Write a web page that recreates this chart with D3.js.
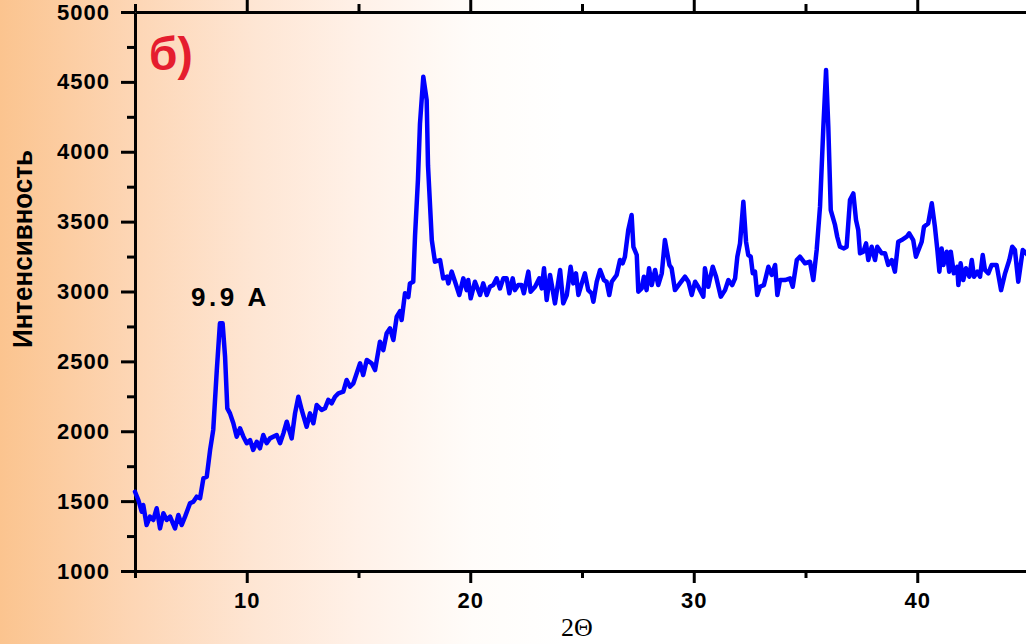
<!DOCTYPE html>
<html>
<head>
<meta charset="utf-8">
<script src="https://cdn.jsdelivr.net/npm/d3@7"></script>
<style>
  body { margin: 0; background: #fff; }
  svg { display: block; }
</style>
</head>
<body>
<svg></svg>
<script>
const width = 1026;
const height = 644;
const plotLeft = 135, plotRight = 1029, plotTop = 12, plotBottom = 571;

// 2Θ, degrees
const twoTheta = [
  5.00, 5.15, 5.30, 5.37, 5.52, 5.67, 5.82, 5.97, 6.12, 6.27, 6.42, 6.57, 6.79, 6.94, 7.09, 7.24,
  7.46, 7.61, 7.76, 7.91, 8.06, 8.21, 8.36, 8.50, 8.66, 8.80, 8.92, 9.03, 9.13, 9.25, 9.40, 9.55,
  9.70, 9.85, 10.00, 10.15, 10.29, 10.45, 10.59, 10.74, 10.89, 11.04, 11.34, 11.49, 11.64, 11.79,
  12.01, 12.16, 12.31, 12.46, 12.68, 12.83, 12.98, 13.13, 13.35, 13.50, 13.65, 13.80, 13.95, 14.10,
  14.32, 14.47, 14.62, 14.77, 15.07, 15.21, 15.37, 15.59, 15.74, 15.96, 16.11, 16.26, 16.41, 16.56,
  16.71, 16.86, 16.93, 17.08, 17.23, 17.30, 17.45, 17.53, 17.66, 17.75, 17.90, 18.05, 18.11, 18.28,
  18.42, 18.65, 18.79, 18.95, 19.02, 19.17, 19.32, 19.51, 19.69, 19.84, 19.91, 20.02, 20.21, 20.44,
  20.58, 20.74, 20.88, 21.03, 21.18, 21.33, 21.48, 21.63, 21.75, 21.90, 22.00, 22.15, 22.30, 22.40,
  22.60, 22.70, 22.90, 23.09, 23.20, 23.30, 23.42, 23.57, 23.69, 23.79, 24.02, 24.16, 24.32, 24.49,
  24.61, 24.73, 24.84, 24.99, 25.13, 25.28, 25.43, 25.51, 25.66, 25.81, 25.98, 26.10, 26.22, 26.33,
  26.55, 26.70, 26.82, 26.92, 27.07, 27.22, 27.30, 27.45, 27.52, 27.67, 27.77, 27.89, 28.00, 28.12,
  28.27, 28.41, 28.57, 28.71, 28.91, 29.01, 29.16, 29.38, 29.61, 29.76, 29.91, 30.06, 30.20, 30.43,
  30.50, 30.65, 30.85, 31.00, 31.21, 31.40, 31.55, 31.72, 31.85, 31.95, 32.07, 32.22, 32.34, 32.44,
  32.55, 32.64, 32.74, 32.84, 32.96, 33.14, 33.34, 33.49, 33.64, 33.74, 33.86, 34.08, 34.31, 34.43,
  34.61, 34.75, 34.98, 35.20, 35.35, 35.50, 35.65, 35.80, 35.92, 36.02, 36.13, 36.32, 36.42, 36.54,
  36.72, 36.84, 36.99, 37.14, 37.26, 37.36, 37.44, 37.59, 37.71, 37.81, 37.96, 38.11, 38.21, 38.41,
  38.56, 38.70, 38.86, 39.00, 39.15, 39.30, 39.53, 39.64, 39.82, 39.94, 40.20, 40.30, 40.49, 40.65,
  40.79, 40.90, 40.99, 41.09, 41.17, 41.32, 41.43, 41.50, 41.64, 41.79, 41.84, 41.94, 42.06, 42.18,
  42.33, 42.44, 42.54, 42.69, 42.81, 42.93, 43.03, 43.18, 43.33, 43.55, 43.75, 43.93, 44.12, 44.25,
  44.37, 44.52, 44.72, 44.87, 45.00
];

// Интенсивность
const intensity = [
  1567, 1508, 1424, 1472, 1329, 1389, 1365, 1449, 1305, 1413, 1365, 1389, 1305, 1401, 1329, 1389,
  1484, 1496, 1532, 1520, 1663, 1675, 1866, 2009, 2438, 2772, 2772, 2533, 2164, 2128, 2057, 1961,
  2021, 1961, 1914, 1937, 1866, 1925, 1878, 1973, 1914, 1949, 1973, 1914, 1985, 2068,
  1949, 2128, 2247, 2152, 2032, 2128, 2057, 2188, 2152, 2164, 2224, 2200, 2247, 2271,
  2283, 2367, 2319, 2343, 2486, 2402, 2510, 2486, 2438, 2641, 2581, 2701, 2736, 2653,
  2820, 2860, 2796, 2987, 2960, 3058, 3070, 3400, 3800, 4200, 4537, 4370, 3900, 3368,
  3213, 3225, 3094, 3106, 3058, 3142, 3070, 2975, 3094, 3010, 3082, 2951, 3070, 2975,
  3058, 2975, 3034, 3046, 3094, 3022, 3094, 3094, 2987, 3094, 3010, 3046, 3046, 2987,
  3142, 2999, 3034, 3094, 3022, 3166, 2939, 3118, 3010, 2915, 3154, 2915, 2975, 3177,
  3058, 3130, 2975, 3058, 3130, 3010, 2987, 2927, 3070, 3154, 3082, 3070, 2975, 3070,
  3118, 3225, 3202, 3249, 3440, 3547, 3320, 3261, 2999, 3022, 3106, 3010, 3166, 3046,
  3154, 3046, 3130, 3368, 3190, 3166, 3010, 3058, 3106, 3070, 2975, 3070, 3034, 2963,
  3166, 3034, 3177, 3106, 2963, 3010, 3082, 3046, 3094, 3249, 3344, 3642, 3356, 3261,
  3249, 3130, 3142, 2975, 3034, 3046, 3177, 3118, 3190, 2975, 3082, 3082, 3094, 3034,
  3225, 3249, 3202, 3213, 3082, 3297, 3607, 4180, 4585, 4180, 3583, 3476, 3392, 3320,
  3308, 3320, 3654, 3702, 3511, 3440, 3273, 3285, 3344, 3225, 3320, 3225, 3320, 3273,
  3273, 3190, 3225, 3142, 3356, 3368, 3392, 3416, 3368, 3249, 3356, 3463, 3487, 3631,
  3463, 3297, 3142, 3308, 3190, 3285, 3142, 3285, 3130, 3177, 3046, 3202, 3082, 3166,
  3106, 3225, 3106, 3142, 3106, 3261, 3154, 3130, 3190, 3190, 3010, 3130, 3225, 3320,
  3297, 3070, 3297, 3273, 3250
];

const xMajorTicks = [10, 20, 30, 40];
const xMinorTicks = [5, 15, 25, 35, 45];
const yMajorTicks = [1000, 1500, 2000, 2500, 3000, 3500, 4000, 4500, 5000];
const yMinorTicks = [1250, 1750, 2250, 2750, 3250, 3750, 4250, 4750];

const points = twoTheta.map((t, i) => ({ t: t, v: intensity[i] }));

let svg = d3.select("svg").attr("width", width).attr("height", height);

// background gradient
let defs = svg.append("defs");
let grad = defs.append("linearGradient")
    .attr("id", "bg")
    .attr("gradientUnits", "userSpaceOnUse")
    .attr("x1", 0).attr("x2", width).attr("y1", 0).attr("y2", 0);
[[0, "#fbc48f"], [0.13, "#fdd6b5"], [0.25, "#fee6d4"], [0.35, "#fff1e8"], [0.46, "#fffcf9"], [0.55, "#ffffff"]]
    .forEach(s => grad.append("stop").attr("offset", s[0]).attr("stop-color", s[1]));
svg.append("rect").attr("width", width).attr("height", height).attr("fill", "url(#bg)");

let scaleX = d3.scaleLinear().domain([5, 45]).range([plotLeft, plotRight]);
let scaleY = d3.scaleLinear().domain([1000, 5000]).range([plotBottom, plotTop]);

const font = "'Liberation Sans', Arial, sans-serif";

function styleAxis(g) {
    g.selectAll("path, line").attr("stroke", "#000").attr("stroke-width", 3);
    g.selectAll("text")
        .attr("fill", "#000")
        .style("font-family", font)
        .style("font-size", "22px")
        .style("font-weight", "bold")
        .style("letter-spacing", "1px");
}

// bottom axis
svg.append("g")
    .attr("transform", `translate(0, ${plotBottom})`)
    .call(d3.axisBottom(scaleX).tickValues(xMinorTicks).tickSize(7).tickSizeOuter(0).tickFormat(""))
    .call(styleAxis);
svg.append("g")
    .attr("transform", `translate(0, ${plotBottom})`)
    .call(d3.axisBottom(scaleX).tickValues(xMajorTicks).tickSize(12).tickSizeOuter(0).tickPadding(9).tickFormat(d3.format("d")))
    .call(g => g.select(".domain").remove())
    .call(styleAxis);

// top axis
svg.append("g")
    .attr("transform", `translate(0, ${plotTop})`)
    .call(d3.axisTop(scaleX).tickValues(xMinorTicks).tickSize(8).tickSizeOuter(0).tickFormat(""))
    .call(styleAxis);
svg.append("g")
    .attr("transform", `translate(0, ${plotTop})`)
    .call(d3.axisTop(scaleX).tickValues(xMajorTicks).tickSize(14).tickSizeOuter(0).tickFormat(""))
    .call(g => g.select(".domain").remove())
    .call(styleAxis);

// left axis
svg.append("g")
    .attr("transform", `translate(${plotLeft}, 0)`)
    .call(d3.axisLeft(scaleY).tickValues(yMinorTicks).tickSize(8).tickSizeOuter(0).tickFormat(""))
    .call(styleAxis);
svg.append("g")
    .attr("transform", `translate(${plotLeft}, 0)`)
    .call(d3.axisLeft(scaleY).tickValues(yMajorTicks).tickSize(14).tickSizeOuter(0).tickPadding(11).tickFormat(d3.format("d")))
    .call(g => g.select(".domain").remove())
    .call(styleAxis);

// the pattern
let line = d3.line()
    .x(d => scaleX(d.t))
    .y(d => scaleY(d.v));

svg.append("path")
    .datum(points)
    .attr("d", line)
    .attr("fill", "none")
    .attr("stroke", "#0000ff")
    .attr("stroke-width", 4.5)
    .attr("stroke-linejoin", "round")
    .attr("stroke-linecap", "round");

// labels
svg.append("text")
    .attr("transform", "translate(32, 249) rotate(-90)")
    .attr("text-anchor", "middle")
    .attr("textLength", 198)
    .attr("lengthAdjust", "spacingAndGlyphs")
    .style("font-family", font)
    .style("font-size", "27px")
    .style("font-weight", "bold")
    .text("Интенсивность");

svg.append("text")
    .attr("x", 577)
    .attr("y", 636)
    .attr("text-anchor", "middle")
    .style("font-family", "'Liberation Serif', 'Times New Roman', serif")
    .style("font-size", "26px")
    .text("2Θ");

svg.append("text")
    .attr("x", 191)
    .attr("y", 306)
    .style("font-family", font)
    .style("font-size", "26px")
    .style("font-weight", "bold")
    .style("letter-spacing", "3.5px")
    .text("9.9 A");

svg.append("text")
    .attr("x", 149)
    .attr("y", 70)
    .attr("fill", "#e51d2e")
    .style("font-family", font)
    .style("font-size", "46px")
    .style("font-weight", "bold")
    .text("б)");
</script>
</body>
</html>
